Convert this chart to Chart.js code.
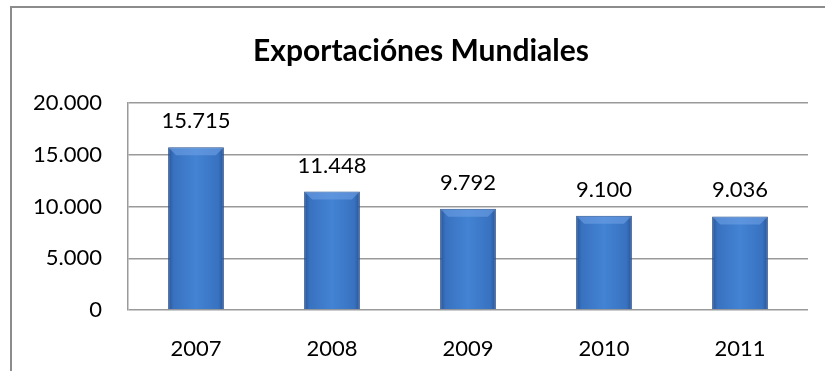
<!DOCTYPE html>
<html>
<head>
<meta charset="utf-8">
<script src="https://cdn.jsdelivr.net/npm/chart.js@4.4.1/dist/chart.umd.min.js"></script>
<style>
  html, body { margin: 0; padding: 0; background: #fff; overflow: hidden; }
  #frame {
    position: absolute; left: 10px; top: 6px; width: 900px; height: 500px;
    border-left: 2px solid #8c8c8c; border-top: 2px solid #8c8c8c;
  }
  #wrap { position: absolute; left: 0; top: 0; width: 825px; height: 371px; }
</style>
</head>
<body>
<div id="frame"></div>
<div id="wrap"><canvas id="myChart"></canvas></div>
<script>
const years = ['2007', '2008', '2009', '2010', '2011'];
const exports = [15715, 11448, 9792, 9100, 9036];
const yTicks = [0, 5000, 10000, 15000, 20000];

const fmt = v => String(v).replace(/\B(?=(\d{3})+(?!\d))/g, '.');
const font = 'Lato, "Noto Sans", sans-serif';

// per-bar gradient, dark edges and a lighter middle
const barShading = {
  id: 'barShading',
  beforeDatasetsDraw(chart) {
    const c = chart.ctx;
    chart.getDatasetMeta(0).data.forEach(bar => {
      const l = bar.x - bar.width / 2, r = bar.x + bar.width / 2;
      const g = c.createLinearGradient(l, 0, r, 0);
      g.addColorStop(0, '#2a5596');
      g.addColorStop(0.1, '#3872c0');
      g.addColorStop(0.5, '#4383d3');
      g.addColorStop(0.9, '#3872c0');
      g.addColorStop(1, '#2a5596');
      // options are shared between bars, so give each one its own copy
      bar.options = Object.assign({}, bar.options, { backgroundColor: g });
    });
  },
  afterDatasetsDraw(chart) {
    const c = chart.ctx;
    chart.getDatasetMeta(0).data.forEach(bar => {
      const l = bar.x - bar.width / 2, r = bar.x + bar.width / 2;
      c.save();
      c.fillStyle = 'rgba(110,160,228,0.6)';
      c.beginPath();
      c.moveTo(l + 1, bar.y + 1);
      c.lineTo(r - 1, bar.y + 1);
      c.lineTo(r - 8, bar.y + 8);
      c.lineTo(l + 8, bar.y + 8);
      c.closePath();
      c.fill();
      c.restore();
    });
  }
};

const valueLabels = {
  id: 'valueLabels',
  afterDatasetsDraw(chart) {
    const c = chart.ctx;
    c.save();
    c.font = '22px ' + font;
    c.fillStyle = '#000';
    c.textAlign = 'center';
    c.textBaseline = 'alphabetic';
    chart.getDatasetMeta(0).data.forEach((bar, i) => {
      c.fillText(fmt(exports[i]), bar.x, bar.y - 19);
    });
    c.restore();
  }
};

const ctx = document.getElementById('myChart').getContext('2d');

const data = {
  labels: years,
  datasets: [{
    data: exports,
    borderColor: '#27508c',
    borderWidth: 1,
    barPercentage: 0.82,
    categoryPercentage: 0.5
  }]
};

const config = {
  type: 'bar',
  data: data,
  options: {
    responsive: true,
    maintainAspectRatio: false,
    animation: false,
    layout: { padding: { left: 34, right: 17, top: 0, bottom: 0 } },
    plugins: {
      legend: { display: false },
      tooltip: { enabled: false },
      title: {
        display: true,
        text: 'Exportaciónes Mundiales',
        color: '#000',
        font: { family: font, size: 30, weight: 'bold' },
        padding: { top: 33, bottom: 34 }
      }
    },
    scales: {
      x: {
        grid: { display: false },
        border: { display: false },
        ticks: { color: '#000', font: { family: font, size: 22 }, padding: 18 },
        afterFit: s => { s.height = 61; }
      },
      y: {
        min: 0,
        max: 20000,
        afterBuildTicks: s => { s.ticks = yTicks.map(v => ({ value: v })); },
        grid: { color: '#9a9a9a', lineWidth: 1.5, drawTicks: false },
        border: { display: true, color: '#9a9a9a', width: 1.5 },
        ticks: { color: '#000', font: { family: font, size: 22 }, padding: 26, callback: v => fmt(v) },
        afterFit: s => { s.width = 94; }
      }
    }
  },
  plugins: [barShading, valueLabels]
};

const myChart = new Chart(ctx, config);
</script>
</body>
</html>
